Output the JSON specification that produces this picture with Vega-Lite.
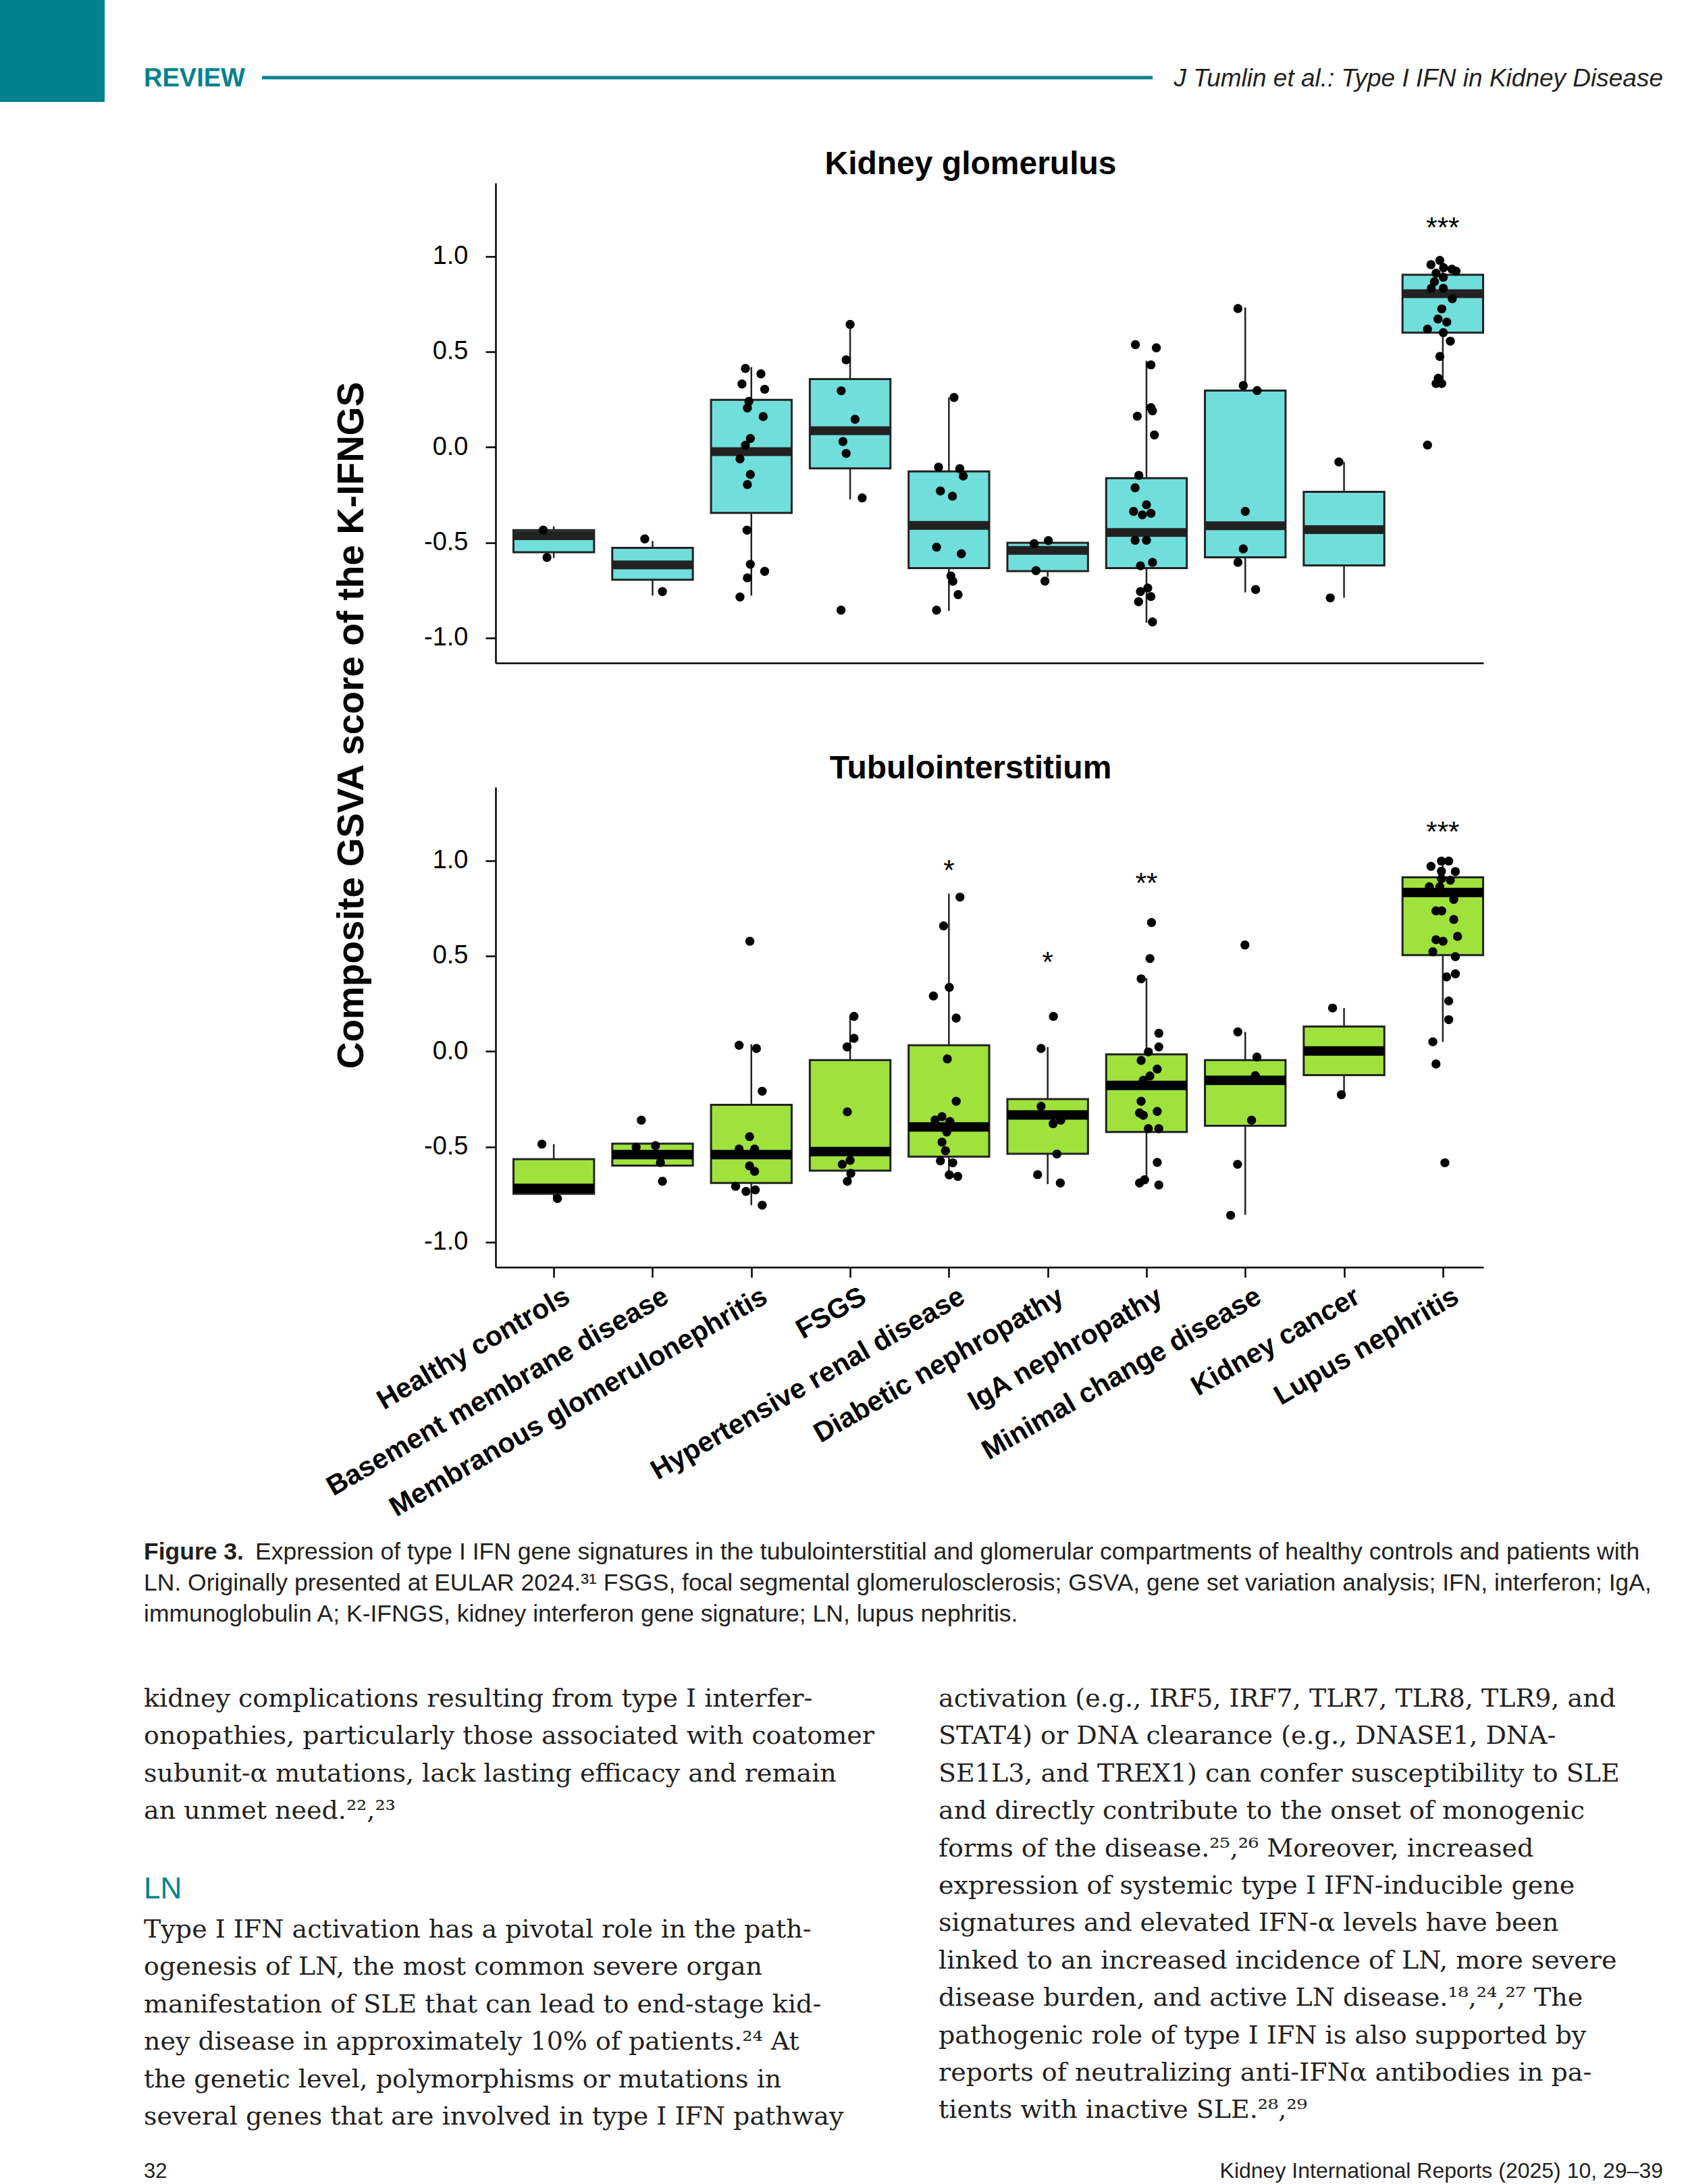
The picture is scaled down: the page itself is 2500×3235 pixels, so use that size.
{
"$schema": "https://vega.github.io/schema/vega-lite/v6.json",
"padding": 0,
"background": "white",
"columns": 2,
"bounds": "flush",
"align": "each",
"spacing": 0,
"config": {"view": {"stroke": null}},
"datasets": {
"boxes": [
{"panel":"Kidney glomerulus","group":"Healthy controls","lo":-0.581,"q1":-0.551,"med":-0.464,"q3":-0.435,"hi":-0.415},
{"panel":"Kidney glomerulus","group":"Basement membrane disease","lo":-0.778,"q1":-0.695,"med":-0.617,"q3":-0.528,"hi":-0.492},
{"panel":"Kidney glomerulus","group":"Membranous glomerulonephritis","lo":-0.778,"q1":-0.345,"med":-0.024,"q3":0.248,"hi":0.419},
{"panel":"Kidney glomerulus","group":"FSGS","lo":-0.274,"q1":-0.111,"med":0.086,"q3":0.356,"hi":0.643},
{"panel":"Kidney glomerulus","group":"Hypertensive renal disease","lo":-0.858,"q1":-0.634,"med":-0.41,"q3":-0.127,"hi":0.26},
{"panel":"Kidney glomerulus","group":"Diabetic nephropathy","lo":-0.68,"q1":-0.65,"med":-0.541,"q3":-0.501,"hi":-0.49},
{"panel":"Kidney glomerulus","group":"IgA nephropathy","lo":-0.92,"q1":-0.634,"med":-0.447,"q3":-0.163,"hi":0.452},
{"panel":"Kidney glomerulus","group":"Minimal change disease","lo":-0.761,"q1":-0.577,"med":-0.412,"q3":0.296,"hi":0.731},
{"panel":"Kidney glomerulus","group":"Kidney cancer","lo":-0.789,"q1":-0.62,"med":-0.432,"q3":-0.234,"hi":-0.078},
{"panel":"Kidney glomerulus","group":"Lupus nephritis","lo":0.331,"q1":0.6,"med":0.804,"q3":0.903,"hi":0.978},
{"panel":"Tubulointerstitium","group":"Healthy controls","lo":-0.771,"q1":-0.746,"med":-0.718,"q3":-0.565,"hi":-0.486},
{"panel":"Tubulointerstitium","group":"Basement membrane disease","lo":-0.599,"q1":-0.599,"med":-0.541,"q3":-0.484,"hi":-0.484},
{"panel":"Tubulointerstitium","group":"Membranous glomerulonephritis","lo":-0.806,"q1":-0.69,"med":-0.541,"q3":-0.28,"hi":0.037},
{"panel":"Tubulointerstitium","group":"FSGS","lo":-0.681,"q1":-0.625,"med":-0.525,"q3":-0.046,"hi":0.183},
{"panel":"Tubulointerstitium","group":"Hypertensive renal disease","lo":-0.65,"q1":-0.552,"med":-0.396,"q3":0.032,"hi":0.826},
{"panel":"Tubulointerstitium","group":"Diabetic nephropathy","lo":-0.696,"q1":-0.537,"med":-0.333,"q3":-0.25,"hi":0.022},
{"panel":"Tubulointerstitium","group":"IgA nephropathy","lo":-0.674,"q1":-0.423,"med":-0.179,"q3":-0.016,"hi":0.383},
{"panel":"Tubulointerstitium","group":"Minimal change disease","lo":-0.857,"q1":-0.39,"med":-0.152,"q3":-0.046,"hi":0.102},
{"panel":"Tubulointerstitium","group":"Kidney cancer","lo":-0.227,"q1":-0.125,"med":0.002,"q3":0.13,"hi":0.227},
{"panel":"Tubulointerstitium","group":"Lupus nephritis","lo":0.05,"q1":0.504,"med":0.832,"q3":0.912,"hi":0.997}
],
"stars": [
{"panel":"Kidney glomerulus","group":"Lupus nephritis","value":1.185,"label":"***"},
{"panel":"Tubulointerstitium","group":"Hypertensive renal disease","value":0.984,"label":"*"},
{"panel":"Tubulointerstitium","group":"Diabetic nephropathy","value":0.503,"label":"*"},
{"panel":"Tubulointerstitium","group":"IgA nephropathy","value":0.917,"label":"**"},
{"panel":"Tubulointerstitium","group":"Lupus nephritis","value":1.186,"label":"***"}
],
"titles": [
{"panel":"Kidney glomerulus","value":1.384,"label":"Kidney glomerulus"},
{"panel":"Tubulointerstitium","value":1.384,"label":"Tubulointerstitium"}
],
"points": [
{"panel":"Kidney glomerulus","group":"Healthy controls","value":-0.435,"jitter":-0.107},
{"panel":"Kidney glomerulus","group":"Healthy controls","value":-0.578,"jitter":-0.069},
{"panel":"Kidney glomerulus","group":"Basement membrane disease","value":-0.481,"jitter":-0.079},
{"panel":"Kidney glomerulus","group":"Basement membrane disease","value":-0.757,"jitter":0.1},
{"panel":"Kidney glomerulus","group":"Membranous glomerulonephritis","value":0.412,"jitter":-0.06},
{"panel":"Kidney glomerulus","group":"Membranous glomerulonephritis","value":0.384,"jitter":0.097},
{"panel":"Kidney glomerulus","group":"Membranous glomerulonephritis","value":0.331,"jitter":-0.095},
{"panel":"Kidney glomerulus","group":"Membranous glomerulonephritis","value":0.303,"jitter":0.135},
{"panel":"Kidney glomerulus","group":"Membranous glomerulonephritis","value":0.24,"jitter":-0.025},
{"panel":"Kidney glomerulus","group":"Membranous glomerulonephritis","value":0.205,"jitter":-0.04},
{"panel":"Kidney glomerulus","group":"Membranous glomerulonephritis","value":0.16,"jitter":0.12},
{"panel":"Kidney glomerulus","group":"Membranous glomerulonephritis","value":0.045,"jitter":-0.01},
{"panel":"Kidney glomerulus","group":"Membranous glomerulonephritis","value":0.01,"jitter":-0.06},
{"panel":"Kidney glomerulus","group":"Membranous glomerulonephritis","value":-0.062,"jitter":-0.115},
{"panel":"Kidney glomerulus","group":"Membranous glomerulonephritis","value":-0.143,"jitter":-0.01},
{"panel":"Kidney glomerulus","group":"Membranous glomerulonephritis","value":-0.196,"jitter":-0.04},
{"panel":"Kidney glomerulus","group":"Membranous glomerulonephritis","value":-0.435,"jitter":-0.044},
{"panel":"Kidney glomerulus","group":"Membranous glomerulonephritis","value":-0.614,"jitter":-0.01},
{"panel":"Kidney glomerulus","group":"Membranous glomerulonephritis","value":-0.651,"jitter":0.135},
{"panel":"Kidney glomerulus","group":"Membranous glomerulonephritis","value":-0.685,"jitter":-0.04},
{"panel":"Kidney glomerulus","group":"Membranous glomerulonephritis","value":-0.785,"jitter":-0.115},
{"panel":"Kidney glomerulus","group":"FSGS","value":0.643,"jitter":0},
{"panel":"Kidney glomerulus","group":"FSGS","value":0.457,"jitter":-0.04},
{"panel":"Kidney glomerulus","group":"FSGS","value":0.295,"jitter":-0.09},
{"panel":"Kidney glomerulus","group":"FSGS","value":0.146,"jitter":0.05},
{"panel":"Kidney glomerulus","group":"FSGS","value":0.029,"jitter":-0.073},
{"panel":"Kidney glomerulus","group":"FSGS","value":-0.033,"jitter":-0.04},
{"panel":"Kidney glomerulus","group":"FSGS","value":-0.266,"jitter":0.122},
{"panel":"Kidney glomerulus","group":"FSGS","value":-0.854,"jitter":-0.092},
{"panel":"Kidney glomerulus","group":"Hypertensive renal disease","value":0.26,"jitter":0.052},
{"panel":"Kidney glomerulus","group":"Hypertensive renal disease","value":-0.105,"jitter":-0.105},
{"panel":"Kidney glomerulus","group":"Hypertensive renal disease","value":-0.113,"jitter":0.11},
{"panel":"Kidney glomerulus","group":"Hypertensive renal disease","value":-0.151,"jitter":0.145},
{"panel":"Kidney glomerulus","group":"Hypertensive renal disease","value":-0.23,"jitter":-0.086},
{"panel":"Kidney glomerulus","group":"Hypertensive renal disease","value":-0.257,"jitter":0.036},
{"panel":"Kidney glomerulus","group":"Hypertensive renal disease","value":-0.524,"jitter":-0.125},
{"panel":"Kidney glomerulus","group":"Hypertensive renal disease","value":-0.559,"jitter":0.126},
{"panel":"Kidney glomerulus","group":"Hypertensive renal disease","value":-0.675,"jitter":0.02},
{"panel":"Kidney glomerulus","group":"Hypertensive renal disease","value":-0.703,"jitter":0.04},
{"panel":"Kidney glomerulus","group":"Hypertensive renal disease","value":-0.773,"jitter":0.093},
{"panel":"Kidney glomerulus","group":"Hypertensive renal disease","value":-0.854,"jitter":-0.125},
{"panel":"Kidney glomerulus","group":"Diabetic nephropathy","value":-0.506,"jitter":-0.137},
{"panel":"Kidney glomerulus","group":"Diabetic nephropathy","value":-0.49,"jitter":0.007},
{"panel":"Kidney glomerulus","group":"Diabetic nephropathy","value":-0.647,"jitter":-0.118},
{"panel":"Kidney glomerulus","group":"Diabetic nephropathy","value":-0.702,"jitter":-0.028},
{"panel":"Kidney glomerulus","group":"IgA nephropathy","value":0.537,"jitter":-0.112},
{"panel":"Kidney glomerulus","group":"IgA nephropathy","value":0.52,"jitter":0.1},
{"panel":"Kidney glomerulus","group":"IgA nephropathy","value":0.431,"jitter":0.045},
{"panel":"Kidney glomerulus","group":"IgA nephropathy","value":0.207,"jitter":0.045},
{"panel":"Kidney glomerulus","group":"IgA nephropathy","value":0.19,"jitter":0.061},
{"panel":"Kidney glomerulus","group":"IgA nephropathy","value":0.162,"jitter":-0.093},
{"panel":"Kidney glomerulus","group":"IgA nephropathy","value":0.064,"jitter":0.08},
{"panel":"Kidney glomerulus","group":"IgA nephropathy","value":-0.148,"jitter":-0.077},
{"panel":"Kidney glomerulus","group":"IgA nephropathy","value":-0.213,"jitter":-0.115},
{"panel":"Kidney glomerulus","group":"IgA nephropathy","value":-0.337,"jitter":-0.131},
{"panel":"Kidney glomerulus","group":"IgA nephropathy","value":-0.302,"jitter":0},
{"panel":"Kidney glomerulus","group":"IgA nephropathy","value":-0.355,"jitter":-0.042},
{"panel":"Kidney glomerulus","group":"IgA nephropathy","value":-0.347,"jitter":0.045},
{"panel":"Kidney glomerulus","group":"IgA nephropathy","value":-0.488,"jitter":-0.115},
{"panel":"Kidney glomerulus","group":"IgA nephropathy","value":-0.488,"jitter":0},
{"panel":"Kidney glomerulus","group":"IgA nephropathy","value":-0.622,"jitter":-0.061},
{"panel":"Kidney glomerulus","group":"IgA nephropathy","value":-0.604,"jitter":0.061},
{"panel":"Kidney glomerulus","group":"IgA nephropathy","value":-0.757,"jitter":-0.061},
{"panel":"Kidney glomerulus","group":"IgA nephropathy","value":-0.738,"jitter":0.013},
{"panel":"Kidney glomerulus","group":"IgA nephropathy","value":-0.783,"jitter":0.045},
{"panel":"Kidney glomerulus","group":"IgA nephropathy","value":-0.81,"jitter":-0.08},
{"panel":"Kidney glomerulus","group":"IgA nephropathy","value":-0.916,"jitter":0.061},
{"panel":"Kidney glomerulus","group":"Minimal change disease","value":0.726,"jitter":-0.074},
{"panel":"Kidney glomerulus","group":"Minimal change disease","value":0.323,"jitter":-0.02},
{"panel":"Kidney glomerulus","group":"Minimal change disease","value":0.296,"jitter":0.12},
{"panel":"Kidney glomerulus","group":"Minimal change disease","value":-0.337,"jitter":0},
{"panel":"Kidney glomerulus","group":"Minimal change disease","value":-0.533,"jitter":-0.02},
{"panel":"Kidney glomerulus","group":"Minimal change disease","value":-0.604,"jitter":-0.074},
{"panel":"Kidney glomerulus","group":"Minimal change disease","value":-0.746,"jitter":0.105},
{"panel":"Kidney glomerulus","group":"Kidney cancer","value":-0.078,"jitter":-0.052},
{"panel":"Kidney glomerulus","group":"Kidney cancer","value":-0.79,"jitter":-0.139},
{"panel":"Kidney glomerulus","group":"Lupus nephritis","value":0.978,"jitter":-0.03},
{"panel":"Kidney glomerulus","group":"Lupus nephritis","value":0.956,"jitter":-0.12},
{"panel":"Kidney glomerulus","group":"Lupus nephritis","value":0.94,"jitter":0.008},
{"panel":"Kidney glomerulus","group":"Lupus nephritis","value":0.932,"jitter":0.092},
{"panel":"Kidney glomerulus","group":"Lupus nephritis","value":0.922,"jitter":0.134},
{"panel":"Kidney glomerulus","group":"Lupus nephritis","value":0.912,"jitter":-0.068},
{"panel":"Kidney glomerulus","group":"Lupus nephritis","value":0.89,"jitter":0.005},
{"panel":"Kidney glomerulus","group":"Lupus nephritis","value":0.867,"jitter":-0.085},
{"panel":"Kidney glomerulus","group":"Lupus nephritis","value":0.832,"jitter":-0.117},
{"panel":"Kidney glomerulus","group":"Lupus nephritis","value":0.832,"jitter":0.005},
{"panel":"Kidney glomerulus","group":"Lupus nephritis","value":0.777,"jitter":0.096},
{"panel":"Kidney glomerulus","group":"Lupus nephritis","value":0.724,"jitter":-0.011},
{"panel":"Kidney glomerulus","group":"Lupus nephritis","value":0.671,"jitter":-0.049},
{"panel":"Kidney glomerulus","group":"Lupus nephritis","value":0.655,"jitter":0.04},
{"panel":"Kidney glomerulus","group":"Lupus nephritis","value":0.618,"jitter":-0.155},
{"panel":"Kidney glomerulus","group":"Lupus nephritis","value":0.6,"jitter":0.005},
{"panel":"Kidney glomerulus","group":"Lupus nephritis","value":0.555,"jitter":0.076},
{"panel":"Kidney glomerulus","group":"Lupus nephritis","value":0.475,"jitter":-0.03},
{"panel":"Kidney glomerulus","group":"Lupus nephritis","value":0.361,"jitter":-0.046},
{"panel":"Kidney glomerulus","group":"Lupus nephritis","value":0.333,"jitter":-0.068},
{"panel":"Kidney glomerulus","group":"Lupus nephritis","value":0.333,"jitter":-0.011},
{"panel":"Kidney glomerulus","group":"Lupus nephritis","value":0.011,"jitter":-0.155},
{"panel":"Tubulointerstitium","group":"Healthy controls","value":-0.486,"jitter":-0.12},
{"panel":"Tubulointerstitium","group":"Healthy controls","value":-0.771,"jitter":0.037},
{"panel":"Tubulointerstitium","group":"Basement membrane disease","value":-0.361,"jitter":-0.114},
{"panel":"Tubulointerstitium","group":"Basement membrane disease","value":-0.502,"jitter":-0.166},
{"panel":"Tubulointerstitium","group":"Basement membrane disease","value":-0.494,"jitter":0.03},
{"panel":"Tubulointerstitium","group":"Basement membrane disease","value":-0.583,"jitter":0.08},
{"panel":"Tubulointerstitium","group":"Basement membrane disease","value":-0.681,"jitter":0.1},
{"panel":"Tubulointerstitium","group":"Membranous glomerulonephritis","value":0.577,"jitter":-0.015},
{"panel":"Tubulointerstitium","group":"Membranous glomerulonephritis","value":0.032,"jitter":-0.124},
{"panel":"Tubulointerstitium","group":"Membranous glomerulonephritis","value":0.015,"jitter":0.052},
{"panel":"Tubulointerstitium","group":"Membranous glomerulonephritis","value":-0.209,"jitter":0.11},
{"panel":"Tubulointerstitium","group":"Membranous glomerulonephritis","value":-0.447,"jitter":-0.018},
{"panel":"Tubulointerstitium","group":"Membranous glomerulonephritis","value":-0.512,"jitter":-0.124},
{"panel":"Tubulointerstitium","group":"Membranous glomerulonephritis","value":-0.512,"jitter":0.033},
{"panel":"Tubulointerstitium","group":"Membranous glomerulonephritis","value":-0.6,"jitter":-0.018},
{"panel":"Tubulointerstitium","group":"Membranous glomerulonephritis","value":-0.629,"jitter":0.033},
{"panel":"Tubulointerstitium","group":"Membranous glomerulonephritis","value":-0.707,"jitter":-0.159},
{"panel":"Tubulointerstitium","group":"Membranous glomerulonephritis","value":-0.734,"jitter":-0.054},
{"panel":"Tubulointerstitium","group":"Membranous glomerulonephritis","value":-0.726,"jitter":0.04},
{"panel":"Tubulointerstitium","group":"Membranous glomerulonephritis","value":-0.806,"jitter":0.11},
{"panel":"Tubulointerstitium","group":"FSGS","value":0.183,"jitter":0.039},
{"panel":"Tubulointerstitium","group":"FSGS","value":0.068,"jitter":0.039},
{"panel":"Tubulointerstitium","group":"FSGS","value":0.023,"jitter":-0.031},
{"panel":"Tubulointerstitium","group":"FSGS","value":-0.317,"jitter":-0.028},
{"panel":"Tubulointerstitium","group":"FSGS","value":-0.571,"jitter":0},
{"panel":"Tubulointerstitium","group":"FSGS","value":-0.592,"jitter":-0.08},
{"panel":"Tubulointerstitium","group":"FSGS","value":-0.639,"jitter":0.007},
{"panel":"Tubulointerstitium","group":"FSGS","value":-0.681,"jitter":-0.028},
{"panel":"Tubulointerstitium","group":"Hypertensive renal disease","value":0.808,"jitter":0.112},
{"panel":"Tubulointerstitium","group":"Hypertensive renal disease","value":0.657,"jitter":-0.054},
{"panel":"Tubulointerstitium","group":"Hypertensive renal disease","value":0.335,"jitter":0.004},
{"panel":"Tubulointerstitium","group":"Hypertensive renal disease","value":0.29,"jitter":-0.157},
{"panel":"Tubulointerstitium","group":"Hypertensive renal disease","value":0.174,"jitter":0.074},
{"panel":"Tubulointerstitium","group":"Hypertensive renal disease","value":-0.04,"jitter":-0.016},
{"panel":"Tubulointerstitium","group":"Hypertensive renal disease","value":-0.262,"jitter":0.074},
{"panel":"Tubulointerstitium","group":"Hypertensive renal disease","value":-0.342,"jitter":-0.07},
{"panel":"Tubulointerstitium","group":"Hypertensive renal disease","value":-0.36,"jitter":-0.14},
{"panel":"Tubulointerstitium","group":"Hypertensive renal disease","value":-0.368,"jitter":0.01},
{"panel":"Tubulointerstitium","group":"Hypertensive renal disease","value":-0.423,"jitter":-0.022},
{"panel":"Tubulointerstitium","group":"Hypertensive renal disease","value":-0.476,"jitter":-0.07},
{"panel":"Tubulointerstitium","group":"Hypertensive renal disease","value":-0.521,"jitter":-0.035},
{"panel":"Tubulointerstitium","group":"Hypertensive renal disease","value":-0.574,"jitter":-0.086},
{"panel":"Tubulointerstitium","group":"Hypertensive renal disease","value":-0.584,"jitter":0.039},
{"panel":"Tubulointerstitium","group":"Hypertensive renal disease","value":-0.647,"jitter":0.004},
{"panel":"Tubulointerstitium","group":"Hypertensive renal disease","value":-0.655,"jitter":0.09},
{"panel":"Tubulointerstitium","group":"Diabetic nephropathy","value":0.183,"jitter":0.058},
{"panel":"Tubulointerstitium","group":"Diabetic nephropathy","value":0.015,"jitter":-0.067},
{"panel":"Tubulointerstitium","group":"Diabetic nephropathy","value":-0.288,"jitter":-0.067},
{"panel":"Tubulointerstitium","group":"Diabetic nephropathy","value":-0.379,"jitter":0.055},
{"panel":"Tubulointerstitium","group":"Diabetic nephropathy","value":-0.361,"jitter":0.132},
{"panel":"Tubulointerstitium","group":"Diabetic nephropathy","value":-0.538,"jitter":0.093},
{"panel":"Tubulointerstitium","group":"Diabetic nephropathy","value":-0.646,"jitter":-0.102},
{"panel":"Tubulointerstitium","group":"Diabetic nephropathy","value":-0.69,"jitter":0.128},
{"panel":"Tubulointerstitium","group":"IgA nephropathy","value":0.675,"jitter":0.051},
{"panel":"Tubulointerstitium","group":"IgA nephropathy","value":0.486,"jitter":0.035},
{"panel":"Tubulointerstitium","group":"IgA nephropathy","value":0.38,"jitter":-0.054},
{"panel":"Tubulointerstitium","group":"IgA nephropathy","value":0.095,"jitter":0.125},
{"panel":"Tubulointerstitium","group":"IgA nephropathy","value":0.023,"jitter":0.125},
{"panel":"Tubulointerstitium","group":"IgA nephropathy","value":-0.003,"jitter":0.019},
{"panel":"Tubulointerstitium","group":"IgA nephropathy","value":-0.048,"jitter":-0.054},
{"panel":"Tubulointerstitium","group":"IgA nephropathy","value":-0.093,"jitter":0.109},
{"panel":"Tubulointerstitium","group":"IgA nephropathy","value":-0.129,"jitter":0.035},
{"panel":"Tubulointerstitium","group":"IgA nephropathy","value":-0.152,"jitter":-0.032},
{"panel":"Tubulointerstitium","group":"IgA nephropathy","value":-0.262,"jitter":-0.054},
{"panel":"Tubulointerstitium","group":"IgA nephropathy","value":-0.315,"jitter":0.109},
{"panel":"Tubulointerstitium","group":"IgA nephropathy","value":-0.323,"jitter":-0.07},
{"panel":"Tubulointerstitium","group":"IgA nephropathy","value":-0.335,"jitter":-0.032},
{"panel":"Tubulointerstitium","group":"IgA nephropathy","value":-0.405,"jitter":0.019},
{"panel":"Tubulointerstitium","group":"IgA nephropathy","value":-0.405,"jitter":0.125},
{"panel":"Tubulointerstitium","group":"IgA nephropathy","value":-0.582,"jitter":0.109},
{"panel":"Tubulointerstitium","group":"IgA nephropathy","value":-0.673,"jitter":-0.019},
{"panel":"Tubulointerstitium","group":"IgA nephropathy","value":-0.69,"jitter":-0.07},
{"panel":"Tubulointerstitium","group":"IgA nephropathy","value":-0.7,"jitter":0.125},
{"panel":"Tubulointerstitium","group":"Minimal change disease","value":0.557,"jitter":-0.003},
{"panel":"Tubulointerstitium","group":"Minimal change disease","value":0.102,"jitter":-0.075},
{"panel":"Tubulointerstitium","group":"Minimal change disease","value":-0.03,"jitter":0.118},
{"panel":"Tubulointerstitium","group":"Minimal change disease","value":-0.127,"jitter":0.102},
{"panel":"Tubulointerstitium","group":"Minimal change disease","value":-0.361,"jitter":0.064},
{"panel":"Tubulointerstitium","group":"Minimal change disease","value":-0.592,"jitter":-0.078},
{"panel":"Tubulointerstitium","group":"Minimal change disease","value":-0.859,"jitter":-0.148},
{"panel":"Tubulointerstitium","group":"Kidney cancer","value":0.227,"jitter":-0.116},
{"panel":"Tubulointerstitium","group":"Kidney cancer","value":-0.227,"jitter":-0.027},
{"panel":"Tubulointerstitium","group":"Lupus nephritis","value":0.997,"jitter":-0.014},
{"panel":"Tubulointerstitium","group":"Lupus nephritis","value":0.997,"jitter":0.06},
{"panel":"Tubulointerstitium","group":"Lupus nephritis","value":0.969,"jitter":-0.12},
{"panel":"Tubulointerstitium","group":"Lupus nephritis","value":0.944,"jitter":-0.014},
{"panel":"Tubulointerstitium","group":"Lupus nephritis","value":0.942,"jitter":0.127},
{"panel":"Tubulointerstitium","group":"Lupus nephritis","value":0.905,"jitter":-0.014},
{"panel":"Tubulointerstitium","group":"Lupus nephritis","value":0.897,"jitter":0.076},
{"panel":"Tubulointerstitium","group":"Lupus nephritis","value":0.862,"jitter":-0.136},
{"panel":"Tubulointerstitium","group":"Lupus nephritis","value":0.862,"jitter":-0.03},
{"panel":"Tubulointerstitium","group":"Lupus nephritis","value":0.796,"jitter":0.111},
{"panel":"Tubulointerstitium","group":"Lupus nephritis","value":0.736,"jitter":-0.069},
{"panel":"Tubulointerstitium","group":"Lupus nephritis","value":0.736,"jitter":-0.011},
{"panel":"Tubulointerstitium","group":"Lupus nephritis","value":0.691,"jitter":0.111},
{"panel":"Tubulointerstitium","group":"Lupus nephritis","value":0.602,"jitter":0.149},
{"panel":"Tubulointerstitium","group":"Lupus nephritis","value":0.585,"jitter":-0.069},
{"panel":"Tubulointerstitium","group":"Lupus nephritis","value":0.577,"jitter":0.002},
{"panel":"Tubulointerstitium","group":"Lupus nephritis","value":0.522,"jitter":-0.101},
{"panel":"Tubulointerstitium","group":"Lupus nephritis","value":0.496,"jitter":0.127},
{"panel":"Tubulointerstitium","group":"Lupus nephritis","value":0.406,"jitter":0.127},
{"panel":"Tubulointerstitium","group":"Lupus nephritis","value":0.39,"jitter":0.038},
{"panel":"Tubulointerstitium","group":"Lupus nephritis","value":0.264,"jitter":0.06},
{"panel":"Tubulointerstitium","group":"Lupus nephritis","value":0.166,"jitter":0.06},
{"panel":"Tubulointerstitium","group":"Lupus nephritis","value":0.05,"jitter":-0.101},
{"panel":"Tubulointerstitium","group":"Lupus nephritis","value":-0.066,"jitter":-0.069},
{"panel":"Tubulointerstitium","group":"Lupus nephritis","value":-0.584,"jitter":0.021}
]
},
"concat": [
{
"width": 734, "height": 271,
"layer": [
{"data": {"values": [{"element": "corner"}]}, "mark": {"type": "rect", "color": "#00818E"},
 "encoding": {"x": {"datum": 0, "type": "quantitative", "scale": {"domain": [0, 2500], "range": [0, 2500], "nice": false, "zero": false}, "axis": null}, "x2": {"datum": 155},
  "y": {"datum": 0, "type": "quantitative", "scale": {"domain": [0, 271], "range": [0, 271], "nice": false, "zero": false}, "axis": null}, "y2": {"datum": 151}}},
{"data": {"values": [{"element": "rule"}]}, "mark": {"type": "rule", "color": "#00818E", "strokeWidth": 5},
 "encoding": {"x": {"datum": 388, "type": "quantitative"}, "x2": {"datum": 1707}, "y": {"datum": 115, "type": "quantitative"}}},
{"data": {"values": [{"text": "REVIEW"}]}, "mark": {"type": "text", "align": "left", "baseline": "alphabetic", "font": "Liberation Sans", "fontWeight": "bold", "fontSize": 38, "color": "#00818E"},
 "encoding": {"x": {"datum": 213, "type": "quantitative"}, "y": {"datum": 128, "type": "quantitative"}, "text": {"field": "text"}}},
{"data": {"values": [{"text": "J Tumlin et al.: Type I IFN in Kidney Disease"}]}, "mark": {"type": "text", "align": "right", "baseline": "alphabetic", "font": "Liberation Sans", "fontStyle": "italic", "fontSize": 37, "color": "#231f20"},
 "encoding": {"x": {"datum": 2463, "type": "quantitative"}, "y": {"datum": 128, "type": "quantitative"}, "text": {"field": "text"}}}
]
},
{"width": 1766, "height": 1, "data": {"values": [{}]}, "mark": {"type": "text", "fontSize": 0, "baseline": "top"}, "encoding": {"text": {"value": ""}}},
{"width": 734, "height": 895, "data": {"values": [{}]}, "mark": {"type": "text", "fontSize": 0, "baseline": "top"}, "encoding": {"text": {"value": ""}}},
{
"width": 1463, "height": 711,
"layer": [
{"data": {"name": "boxes"},
 "transform": [{"filter": "datum.panel === 'Kidney glomerulus'"}, {"calculate": "indexof(['Healthy controls','Basement membrane disease','Membranous glomerulonephritis','FSGS','Hypertensive renal disease','Diabetic nephropathy','IgA nephropathy','Minimal change disease','Kidney cancer','Lupus nephritis'], datum.group)", "as": "xi"}],
 "mark": {"type": "rule", "color": "#222222", "strokeWidth": 2.5},
 "encoding": {
  "x": {"field": "xi", "type": "quantitative", "scale": {"domain": [-0.589, 9.411], "nice": false, "zero": false}, "axis": {"title": null, "ticks": false, "labels": false, "domain": true, "domainColor": "black", "domainWidth": 2.5, "grid": false}},
  "y": {"field": "lo", "type": "quantitative", "scale": {"domain": [-1.131, 1.384], "nice": false, "zero": false}, "axis": {"title": null, "values": [-1, -0.5, 0, 0.5, 1], "labelExpr": "datum.value < 0 ? '-' + format(-datum.value, '.1f') : format(datum.value, '.1f')", "tickSize": 15, "tickWidth": 2.5, "tickColor": "black", "domainColor": "black", "domainWidth": 2.5, "labelFont": "Liberation Sans", "labelFontSize": 38, "labelColor": "black", "labelPadding": 26, "labelOverlap": false, "labelFlush": false, "grid": false}},
  "y2": {"field": "hi"}}},
{"data": {"name": "boxes"},
 "transform": [{"filter": "datum.panel === 'Kidney glomerulus'"}, {"calculate": "indexof(['Healthy controls','Basement membrane disease','Membranous glomerulonephritis','FSGS','Hypertensive renal disease','Diabetic nephropathy','IgA nephropathy','Minimal change disease','Kidney cancer','Lupus nephritis'], datum.group)", "as": "xi"}, {"calculate": "datum.xi - 0.408", "as": "x0"}, {"calculate": "datum.xi + 0.408", "as": "x1"}],
 "mark": {"type": "rect", "fill": "#70DFDB", "stroke": "#222222", "strokeWidth": 3},
 "encoding": {"x": {"field": "x0", "type": "quantitative"}, "x2": {"field": "x1"}, "y": {"field": "q1", "type": "quantitative"}, "y2": {"field": "q3"}}},
{"data": {"name": "boxes"},
 "transform": [{"filter": "datum.panel === 'Kidney glomerulus'"}, {"calculate": "indexof(['Healthy controls','Basement membrane disease','Membranous glomerulonephritis','FSGS','Hypertensive renal disease','Diabetic nephropathy','IgA nephropathy','Minimal change disease','Kidney cancer','Lupus nephritis'], datum.group)", "as": "xi"}, {"calculate": "datum.xi - 0.408", "as": "x0"}, {"calculate": "datum.xi + 0.408", "as": "x1"}],
 "mark": {"type": "rule", "color": "#222222", "strokeWidth": 13, "strokeCap": "butt"},
 "encoding": {"x": {"field": "x0", "type": "quantitative"}, "x2": {"field": "x1"}, "y": {"field": "med", "type": "quantitative"}}},
{"data": {"name": "points"},
 "transform": [{"filter": "datum.panel === 'Kidney glomerulus'"}, {"calculate": "indexof(['Healthy controls','Basement membrane disease','Membranous glomerulonephritis','FSGS','Hypertensive renal disease','Diabetic nephropathy','IgA nephropathy','Minimal change disease','Kidney cancer','Lupus nephritis'], datum.group) + datum.jitter", "as": "xj"}],
 "mark": {"type": "circle", "color": "black", "size": 180, "opacity": 1},
 "encoding": {"x": {"field": "xj", "type": "quantitative"}, "y": {"field": "value", "type": "quantitative"}}},
{"data": {"name": "stars"},
 "transform": [{"filter": "datum.panel === 'Kidney glomerulus'"}, {"calculate": "indexof(['Healthy controls','Basement membrane disease','Membranous glomerulonephritis','FSGS','Hypertensive renal disease','Diabetic nephropathy','IgA nephropathy','Minimal change disease','Kidney cancer','Lupus nephritis'], datum.group)", "as": "xi"}],
 "mark": {"type": "text", "font": "Liberation Sans", "fontSize": 42, "baseline": "alphabetic", "dy": 24, "color": "black"},
 "encoding": {"x": {"field": "xi", "type": "quantitative"}, "y": {"field": "value", "type": "quantitative"}, "text": {"field": "label"}}},
{"data": {"name": "titles"},
 "transform": [{"filter": "datum.panel === 'Kidney glomerulus'"}],
 "mark": {"type": "text", "font": "Liberation Sans", "fontSize": 48, "fontWeight": "bold", "baseline": "alphabetic", "align": "center", "dy": -13, "dx": -28, "color": "black"},
 "encoding": {"x": {"datum": 4.411, "type": "quantitative"}, "y": {"field": "value", "type": "quantitative"}, "text": {"field": "label"}}}
]
},
{"width": 734, "height": 711, "data": {"values": [{}]}, "mark": {"type": "text", "fontSize": 0, "baseline": "top"}, "encoding": {"text": {"value": ""}}},
{
"width": 1463, "height": 711,
"layer": [
{"data": {"name": "boxes"},
 "transform": [{"filter": "datum.panel === 'Tubulointerstitium'"}, {"calculate": "indexof(['Healthy controls','Basement membrane disease','Membranous glomerulonephritis','FSGS','Hypertensive renal disease','Diabetic nephropathy','IgA nephropathy','Minimal change disease','Kidney cancer','Lupus nephritis'], datum.group)", "as": "xi"}],
 "mark": {"type": "rule", "color": "#222222", "strokeWidth": 2.5},
 "encoding": {
  "x": {"field": "xi", "type": "quantitative", "scale": {"domain": [-0.589, 9.411], "nice": false, "zero": false}, "axis": {"title": null, "values": [0, 1, 2, 3, 4, 5, 6, 7, 8, 9], "labelExpr": "['Healthy controls','Basement membrane disease','Membranous glomerulonephritis','FSGS','Hypertensive renal disease','Diabetic nephropathy','IgA nephropathy','Minimal change disease','Kidney cancer','Lupus nephritis'][datum.value]", "tickSize": 15, "tickWidth": 2.5, "tickColor": "black", "domainColor": "black", "domainWidth": 2.5, "labelAngle": -30, "labelAlign": "right", "labelBaseline": "top", "labelFont": "Liberation Sans", "labelFontWeight": "bold", "labelFontSize": 41, "labelColor": "black", "labelPadding": 8, "labelOffset": 10, "labelLimit": 2000, "labelOverlap": false, "labelFlush": false, "labelBound": false, "grid": false}},
  "y": {"field": "lo", "type": "quantitative", "scale": {"domain": [-1.131, 1.384], "nice": false, "zero": false}, "axis": {"title": "Composite GSVA score of the K-IFNGS", "titleFont": "Liberation Sans", "titleFontSize": 55, "titleFontWeight": "bold", "titleColor": "black", "titleAngle": -90, "titleAlign": "center", "titleBaseline": "alphabetic", "titleX": -197, "titleY": -92, "values": [-1, -0.5, 0, 0.5, 1], "labelExpr": "datum.value < 0 ? '-' + format(-datum.value, '.1f') : format(datum.value, '.1f')", "tickSize": 15, "tickWidth": 2.5, "tickColor": "black", "domainColor": "black", "domainWidth": 2.5, "labelFont": "Liberation Sans", "labelFontSize": 38, "labelColor": "black", "labelPadding": 26, "labelOverlap": false, "labelFlush": false, "grid": false}},
  "y2": {"field": "hi"}}},
{"data": {"name": "boxes"},
 "transform": [{"filter": "datum.panel === 'Tubulointerstitium'"}, {"calculate": "indexof(['Healthy controls','Basement membrane disease','Membranous glomerulonephritis','FSGS','Hypertensive renal disease','Diabetic nephropathy','IgA nephropathy','Minimal change disease','Kidney cancer','Lupus nephritis'], datum.group)", "as": "xi"}, {"calculate": "datum.xi - 0.408", "as": "x0"}, {"calculate": "datum.xi + 0.408", "as": "x1"}],
 "mark": {"type": "rect", "fill": "#A0E23C", "stroke": "#222222", "strokeWidth": 3},
 "encoding": {"x": {"field": "x0", "type": "quantitative"}, "x2": {"field": "x1"}, "y": {"field": "q1", "type": "quantitative"}, "y2": {"field": "q3"}}},
{"data": {"name": "boxes"},
 "transform": [{"filter": "datum.panel === 'Tubulointerstitium'"}, {"calculate": "indexof(['Healthy controls','Basement membrane disease','Membranous glomerulonephritis','FSGS','Hypertensive renal disease','Diabetic nephropathy','IgA nephropathy','Minimal change disease','Kidney cancer','Lupus nephritis'], datum.group)", "as": "xi"}, {"calculate": "datum.xi - 0.408", "as": "x0"}, {"calculate": "datum.xi + 0.408", "as": "x1"}],
 "mark": {"type": "rule", "color": "#000000", "strokeWidth": 14, "strokeCap": "butt"},
 "encoding": {"x": {"field": "x0", "type": "quantitative"}, "x2": {"field": "x1"}, "y": {"field": "med", "type": "quantitative"}}},
{"data": {"name": "points"},
 "transform": [{"filter": "datum.panel === 'Tubulointerstitium'"}, {"calculate": "indexof(['Healthy controls','Basement membrane disease','Membranous glomerulonephritis','FSGS','Hypertensive renal disease','Diabetic nephropathy','IgA nephropathy','Minimal change disease','Kidney cancer','Lupus nephritis'], datum.group) + datum.jitter", "as": "xj"}],
 "mark": {"type": "circle", "color": "black", "size": 180, "opacity": 1},
 "encoding": {"x": {"field": "xj", "type": "quantitative"}, "y": {"field": "value", "type": "quantitative"}}},
{"data": {"name": "stars"},
 "transform": [{"filter": "datum.panel === 'Tubulointerstitium'"}, {"calculate": "indexof(['Healthy controls','Basement membrane disease','Membranous glomerulonephritis','FSGS','Hypertensive renal disease','Diabetic nephropathy','IgA nephropathy','Minimal change disease','Kidney cancer','Lupus nephritis'], datum.group)", "as": "xi"}],
 "mark": {"type": "text", "font": "Liberation Sans", "fontSize": 42, "baseline": "alphabetic", "dy": 24, "color": "black"},
 "encoding": {"x": {"field": "xi", "type": "quantitative"}, "y": {"field": "value", "type": "quantitative"}, "text": {"field": "label"}}},
{"data": {"name": "titles"},
 "transform": [{"filter": "datum.panel === 'Tubulointerstitium'"}],
 "mark": {"type": "text", "font": "Liberation Sans", "fontSize": 48, "fontWeight": "bold", "baseline": "alphabetic", "align": "center", "dy": -13, "dx": -28, "color": "black"},
 "encoding": {"x": {"datum": 4.411, "type": "quantitative"}, "y": {"field": "value", "type": "quantitative"}, "text": {"field": "label"}}}
]
},
{
"width": 734, "height": 1358,
"resolve": {"scale": {"x": "independent", "y": "independent"}},
"layer": [
{"data": {"values": [{"col": 0, "line": 1, "text": "Figure 3."}]},
 "mark": {"type": "text", "align": "left", "baseline": "alphabetic", "font": "Liberation Sans", "fontWeight": "bold", "fontSize": 35.5, "color": "#231f20"},
 "encoding": {"x": {"field": "col", "type": "quantitative", "scale": {"domain": [0, 1], "range": [213, 378], "nice": false, "zero": false}, "axis": null}, "y": {"field": "line", "type": "quantitative", "scale": {"domain": [1, 3], "range": [433, 525.4], "nice": false, "zero": false}, "axis": null}, "text": {"field": "text"}}},
{"data": {"values": [
 {"col": 1, "line": 1, "text": "Expression of type I IFN gene signatures in the tubulointerstitial and glomerular compartments of healthy controls and patients with"},
 {"col": 0, "line": 2, "text": "LN. Originally presented at EULAR 2024.³¹ FSGS, focal segmental glomerulosclerosis; GSVA, gene set variation analysis; IFN, interferon; IgA,"},
 {"col": 0, "line": 3, "text": "immunoglobulin A; K-IFNGS, kidney interferon gene signature; LN, lupus nephritis."}]},
 "mark": {"type": "text", "align": "left", "baseline": "alphabetic", "font": "Liberation Sans", "fontSize": 35.5, "color": "#231f20"},
 "encoding": {"x": {"field": "col", "type": "quantitative", "scale": {"domain": [0, 1], "range": [213, 378], "nice": false, "zero": false}, "axis": null}, "y": {"field": "line", "type": "quantitative", "scale": {"domain": [1, 3], "range": [433, 525.4], "nice": false, "zero": false}, "axis": null}, "text": {"field": "text"}}},
{"data": {"values": [
 {"col": 0, "line": 1, "text": "kidney complications resulting from type I interfer-"},
 {"col": 0, "line": 2, "text": "onopathies, particularly those associated with coatomer"},
 {"col": 0, "line": 3, "text": "subunit-α mutations, lack lasting efficacy and remain"},
 {"col": 0, "line": 4, "text": "an unmet need.²²,²³"},
 {"col": 1, "line": 1, "text": "activation (e.g., IRF5, IRF7, TLR7, TLR8, TLR9, and"},
 {"col": 1, "line": 2, "text": "STAT4) or DNA clearance (e.g., DNASE1, DNA-"},
 {"col": 1, "line": 3, "text": "SE1L3, and TREX1) can confer susceptibility to SLE"},
 {"col": 1, "line": 4, "text": "and directly contribute to the onset of monogenic"},
 {"col": 1, "line": 5, "text": "forms of the disease.²⁵,²⁶ Moreover, increased"},
 {"col": 1, "line": 6, "text": "expression of systemic type I IFN-inducible gene"},
 {"col": 1, "line": 7, "text": "signatures and elevated IFN-α levels have been"},
 {"col": 1, "line": 8, "text": "linked to an increased incidence of LN, more severe"},
 {"col": 1, "line": 9, "text": "disease burden, and active LN disease.¹⁸,²⁴,²⁷ The"},
 {"col": 1, "line": 10, "text": "pathogenic role of type I IFN is also supported by"},
 {"col": 1, "line": 11, "text": "reports of neutralizing anti-IFNα antibodies in pa-"},
 {"col": 1, "line": 12, "text": "tients with inactive SLE.²⁸,²⁹"}]},
 "mark": {"type": "text", "align": "left", "baseline": "alphabetic", "font": "DejaVu Serif", "fontSize": 38, "color": "#231f20"},
 "encoding": {"x": {"field": "col", "type": "quantitative", "scale": {"domain": [0, 1], "range": [213, 1390], "nice": false, "zero": false}, "axis": null}, "y": {"field": "line", "type": "quantitative", "scale": {"domain": [1, 12], "range": [651, 1260.4], "nice": false, "zero": false}, "axis": null}, "text": {"field": "text"}}},
{"data": {"values": [
 {"col": 0, "line": 1, "text": "Type I IFN activation has a pivotal role in the path-"},
 {"col": 0, "line": 2, "text": "ogenesis of LN, the most common severe organ"},
 {"col": 0, "line": 3, "text": "manifestation of SLE that can lead to end-stage kid-"},
 {"col": 0, "line": 4, "text": "ney disease in approximately 10% of patients.²⁴ At"},
 {"col": 0, "line": 5, "text": "the genetic level, polymorphisms or mutations in"},
 {"col": 0, "line": 6, "text": "several genes that are involved in type I IFN pathway"}]},
 "mark": {"type": "text", "align": "left", "baseline": "alphabetic", "font": "DejaVu Serif", "fontSize": 38, "color": "#231f20"},
 "encoding": {"x": {"field": "col", "type": "quantitative", "scale": {"domain": [0, 1], "range": [213, 1390], "nice": false, "zero": false}, "axis": null}, "y": {"field": "line", "type": "quantitative", "scale": {"domain": [1, 6], "range": [993, 1270], "nice": false, "zero": false}, "axis": null}, "text": {"field": "text"}}},
{"data": {"values": [{"col": 0, "line": 1, "text": "LN"}]},
 "mark": {"type": "text", "align": "left", "baseline": "alphabetic", "font": "Liberation Sans", "fontSize": 44, "color": "#00818E"},
 "encoding": {"x": {"field": "col", "type": "quantitative", "scale": {"domain": [0, 1], "range": [213, 1390], "nice": false, "zero": false}, "axis": null}, "y": {"field": "line", "type": "quantitative", "scale": {"domain": [1, 2], "range": [935, 990], "nice": false, "zero": false}, "axis": null}, "text": {"field": "text"}}},
{"data": {"values": [{"col": 0, "line": 1, "text": "32"}]},
 "mark": {"type": "text", "align": "left", "baseline": "alphabetic", "font": "Liberation Sans", "fontSize": 31, "color": "#231f20"},
 "encoding": {"x": {"field": "col", "type": "quantitative", "scale": {"domain": [0, 1], "range": [213, 2463], "nice": false, "zero": false}, "axis": null}, "y": {"field": "line", "type": "quantitative", "scale": {"domain": [1, 2], "range": [1349, 1400], "nice": false, "zero": false}, "axis": null}, "text": {"field": "text"}}},
{"data": {"values": [{"col": 1, "line": 1, "text": "Kidney International Reports (2025) 10, 29–39"}]},
 "mark": {"type": "text", "align": "right", "baseline": "alphabetic", "font": "Liberation Sans", "fontSize": 32, "color": "#231f20"},
 "encoding": {"x": {"field": "col", "type": "quantitative", "scale": {"domain": [0, 1], "range": [213, 2463], "nice": false, "zero": false}, "axis": null}, "y": {"field": "line", "type": "quantitative", "scale": {"domain": [1, 2], "range": [1349, 1400], "nice": false, "zero": false}, "axis": null}, "text": {"field": "text"}}}
]
},
{"width": 1766, "height": 1, "data": {"values": [{}]}, "mark": {"type": "text", "fontSize": 0, "baseline": "top"}, "encoding": {"text": {"value": ""}}}
]
}
